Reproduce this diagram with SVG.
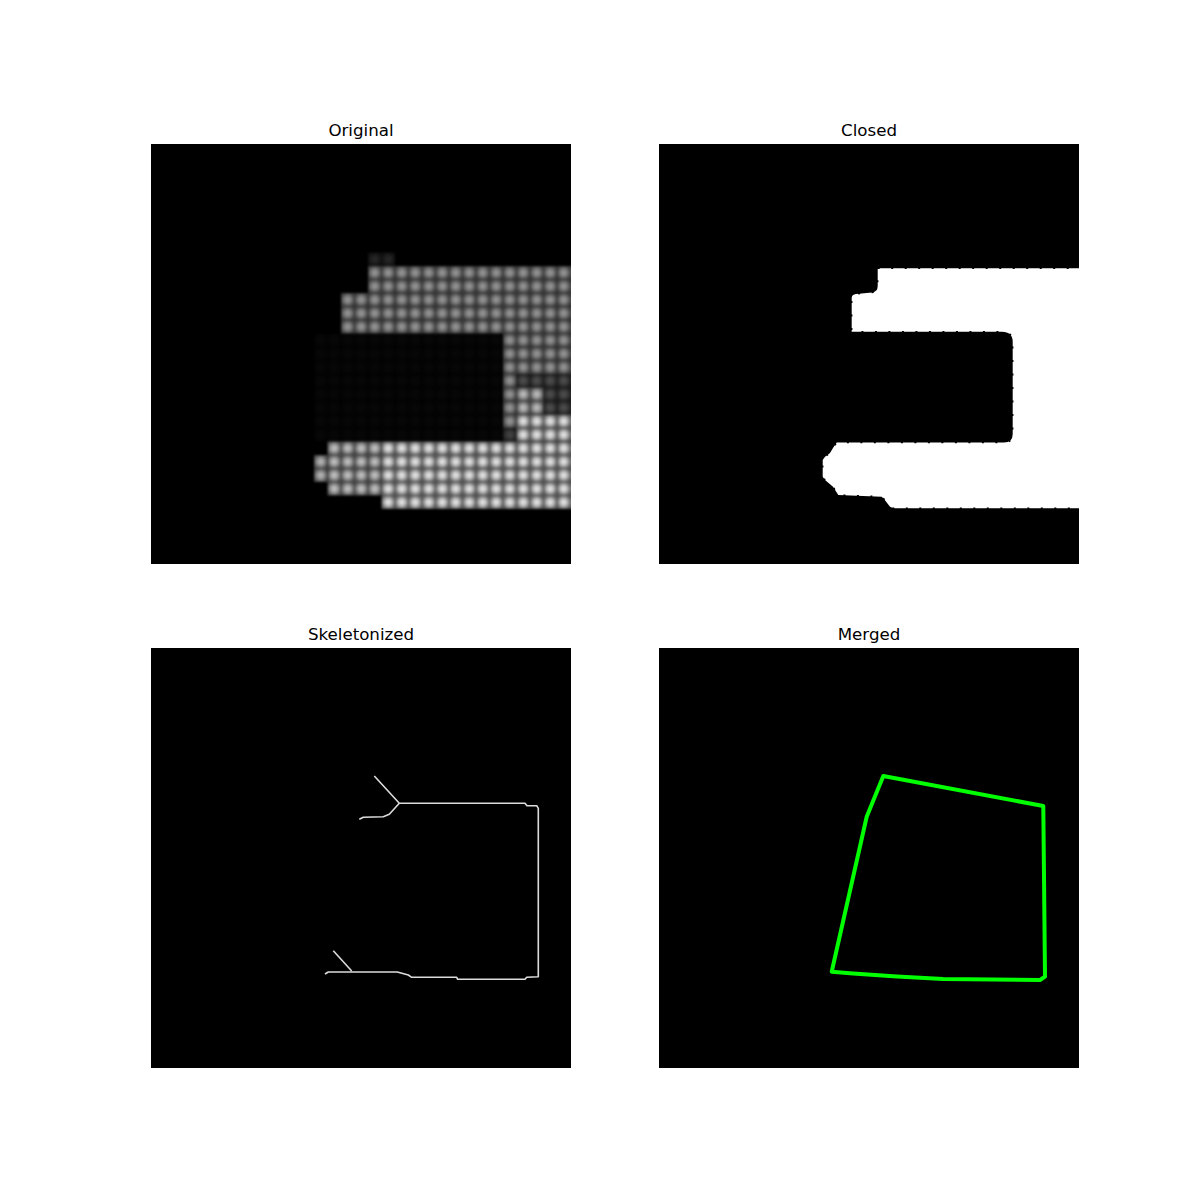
<svg xmlns="http://www.w3.org/2000/svg" width="1200" height="1200" viewBox="0 0 1200 1200">
<style>
.title{font-family:"DejaVu Sans",sans-serif;font-size:16.67px;fill:#000;text-anchor:middle}
.panel{fill:#000}
</style>
<defs>
<radialGradient id="spotg" cx="0.5" cy="0.5" r="0.71">
<stop offset="0" stop-color="#ffffff"/>
<stop offset="0.35" stop-color="#c8c8c8"/>
<stop offset="0.7" stop-color="#6a6a6a"/>
<stop offset="1" stop-color="#4a4a4a"/>
</radialGradient>
<pattern id="spots" patternUnits="userSpaceOnUse" x="368" y="266" width="13.5" height="13.5">
<rect width="13.5" height="13.5" fill="url(#spotg)"/>
</pattern>
<clipPath id="c1"><rect x="151" y="144" width="420" height="420"/></clipPath>
<clipPath id="c2"><rect x="659" y="144" width="420" height="420"/></clipPath>
<filter id="soft" x="-5%" y="-5%" width="110%" height="110%"><feGaussianBlur stdDeviation="0.9"/></filter>
</defs>
<rect width="1200" height="1200" fill="#fff"/>

<text class="title" x="361" y="135.7">Original</text>
<text class="title" x="869" y="135.7">Closed</text>
<text class="title" x="361" y="639.7">Skeletonized</text>
<text class="title" x="869" y="639.7">Merged</text>

<g id="original">
<rect class="panel" x="151" y="144" width="420" height="420"/>
<g clip-path="url(#c1)" filter="url(#soft)">
<rect x="368" y="252.5" width="27" height="13.5" fill="url(#spots)" opacity="0.16"/>
<polygon points="368,266 575,266 575,374 503,374 503,333.5 341,333.5 341,293 368,293" fill="url(#spots)" opacity="0.62"/>
<rect x="314" y="333.5" width="189" height="108" fill="url(#spots)" opacity="0.03"/>
<rect x="503" y="374" width="13.5" height="54" fill="url(#spots)" opacity="0.62"/>
<rect x="503" y="428" width="13.5" height="13.5" fill="url(#spots)" opacity="0.28"/>
<rect x="516.5" y="374" width="58.5" height="13.5" fill="url(#spots)" opacity="0.32"/>
<rect x="516.5" y="387.5" width="27" height="27" fill="url(#spots)" opacity="0.78"/>
<rect x="543.5" y="387.5" width="31.5" height="27" fill="url(#spots)" opacity="0.32"/>
<rect x="516.5" y="414.5" width="58.5" height="27" fill="url(#spots)" opacity="0.95"/>
<rect x="381.5" y="441.5" width="193.5" height="67.5" fill="url(#spots)" opacity="0.95"/>
<rect x="327.5" y="441.5" width="54" height="54" fill="url(#spots)" opacity="0.8"/>
<rect x="314" y="455" width="13.5" height="27" fill="url(#spots)" opacity="0.75"/>
</g>
</g>

<g id="closed">
<rect class="panel" x="659" y="144" width="420" height="420"/>
<g clip-path="url(#c2)">
<path d="M877.7,268.3 L1090,268.3 L1090,508.3 L893.3,508.3 L890,506.7 L884,499 L881.7,496.7 L838.3,495 L833,486.7 L825,480 L822.7,476.7 L822.7,460 L825,456.7 L830,453 L833,448 L836.7,442.5 L1004,442.5 Q1012.7,442.5 1012.7,434 L1012.7,342 Q1012.7,331.7 1002,331.7 L851.7,331.7 L851.7,298 Q851.7,294.5 856,294 L872,292.5 Q877.7,291.7 877.7,286 Z" fill="#fff" stroke="#000" stroke-width="1.5" stroke-dasharray="2 11.5"/>
</g>
</g>

<g id="skeletonized">
<rect class="panel" x="151" y="648" width="420" height="420"/>
<g fill="none" stroke="#dcdcdc" stroke-width="1.6" stroke-linejoin="round">
<polyline points="374.3,776 399.3,803.3 525,803.3 527,805.7 536.7,805.7 538.3,808.3 538.3,976.7 526.7,977.3 525,979.3 457.7,979.3 456.7,977.3 411.7,977.3 408.3,975 397.3,972 328.3,972 325,974"/>
<polyline points="399.3,803.3 389.3,814.3 383.3,816.7 363.3,817.3 359.3,819.3"/>
<polyline points="333.3,950.7 351.7,971"/>
</g>
</g>

<g id="merged">
<rect class="panel" x="659" y="648" width="420" height="420"/>
<polygon points="883.3,776 1043.3,806 1045,976.7 1040,980 943,979 897,976.5 853,973.5 831.7,971.7 866.7,816.7" fill="none" stroke="#00ff00" stroke-width="4" stroke-linejoin="round"/>
</g>
</svg>
